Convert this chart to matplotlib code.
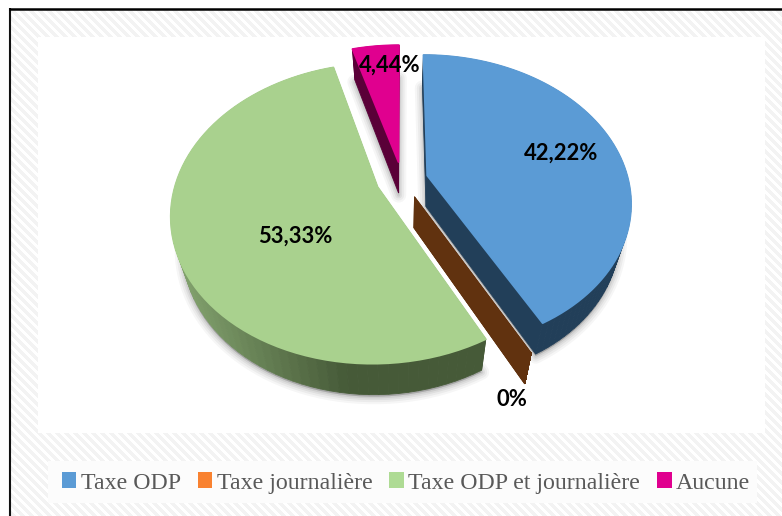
import numpy as np
import matplotlib
matplotlib.use("Agg")
import matplotlib.pyplot as plt
from matplotlib.patches import Patch, Polygon, Rectangle
from matplotlib.colors import to_rgb

# Survey shares by type of tax
categories = ["Taxe ODP", "Taxe journalière", "Taxe ODP et journalière", "Aucune"]
shares = [42.22, 0.0, 53.33, 4.44]
labels = ["42,22%", "0%", "53,33%", "4,44%"]

face_colors = ["#5B9BD5", "#ED7D31", "#A9D18E", "#E0008F"]
legend_colors = ["#5B9BD5", "#F98230", "#AEDB94", "#E0008F"]
wall_colors = ["#223F59", "#61320F", "#465A38", "#5A0038"]
label_xy = [(561, 153), (512, 399), (295, 236), (390, 65)]

# Camera used to lay the pie plane down in pixel space
CX, CY = 402.0, 180.0
SCALE_X, SCALE_Y = 201.0, 143.0
PERSPECTIVE = 0.175
DEPTH = 31.0
WALL_LEAN = 0.05
EXPLODE = 0.13


def project(u, v):
    w = 1.0 + PERSPECTIVE * v
    return CX + SCALE_X * u / w, CY - SCALE_Y * v / w


def wedge_outline(wedge, n=80):
    """Apex plus rim of a pie wedge, projected to pixels."""
    cu, cv = wedge.center
    t = np.radians(np.linspace(wedge.theta1, wedge.theta2, n))
    u = np.r_[cu, cu + wedge.r * np.cos(t)]
    v = np.r_[cv, cv + wedge.r * np.sin(t)]
    return np.column_stack(project(u, v))


def lower(points):
    """Same outline on the underside of the disc."""
    out = points.copy()
    out[:, 0] -= WALL_LEAN * (points[:, 0] - CX)
    out[:, 1] += DEPTH
    return out


fig = plt.figure(figsize=(7.82, 5.16), dpi=100, facecolor="white")

# The pie itself supplies the wedge angles and explosion offsets
helper = fig.add_axes([0, 0, 0.01, 0.01])
wedges, _ = helper.pie(shares, explode=[EXPLODE] * len(shares), startangle=90,
                       counterclock=False)
helper.set_visible(False)

ax = fig.add_axes([0, 0, 1, 1])
ax.set_xlim(0, 782)
ax.set_ylim(516, 0)
ax.axis("off")

# Diagonal pinstripe chart background
yy, xx = np.mgrid[10:516, 10:782]
stripes = np.where((xx - yy) % 9 < 4.5, 0.955, 1.0)
ax.imshow(stripes, extent=(10, 782, 516, 10), cmap="gray", vmin=0, vmax=1,
          aspect="auto", interpolation="bilinear", zorder=0)
ax.set_xlim(0, 782)
ax.set_ylim(516, 0)
ax.add_patch(Rectangle((38, 37), 727, 396, fc="white", ec="none", zorder=1))
ax.add_patch(Rectangle((48, 461), 709, 42, fc="#FCFCFC", ec="none", zorder=1))
ax.plot([9.5, 9.5], [8, 516], color="#111111", lw=1.5, zorder=2, solid_capstyle="butt")
ax.plot([8.5, 782], [9, 9], color="black", lw=1.8, zorder=2, solid_capstyle="butt")

outlines = [wedge_outline(w) for w in wedges]

# Soft drop shadows under the extruded wedges
for idx, pts in enumerate(outlines):
    if shares[idx] == 0:
        continue
    low = lower(pts) + np.array([0.0, 2.0])
    for lw, alpha in [(11, 0.035), (8, 0.045), (5, 0.055), (2.5, 0.07)]:
        ax.add_patch(Polygon(low, closed=True, fc="black", ec="black", lw=lw,
                             alpha=alpha, joinstyle="round", zorder=3))

# Extruded walls, then the top faces
for idx, pts in enumerate(outlines):
    low = lower(pts)
    closed_top = np.vstack([pts, pts[0]])
    closed_low = np.vstack([low, low[0]])
    base = np.array(to_rgb(wall_colors[idx]))
    for i in range(len(pts)):
        color = base
        if categories[idx] == "Taxe ODP et journalière":
            # The wall catches more light towards the left of the disc
            frac = np.clip((340 - closed_top[i, 0]) / 170.0, 0, 1)
            color = base + (np.array(to_rgb("#85A570")) - base) * frac
        quad = [closed_top[i], closed_top[i + 1], closed_low[i + 1], closed_low[i]]
        ax.add_patch(Polygon(quad, closed=True, fc=color, ec=color, lw=0.6, zorder=4))

for idx, pts in enumerate(outlines):
    if shares[idx] > 0:
        ax.add_patch(Polygon(pts, closed=True, fc=face_colors[idx], ec=face_colors[idx],
                             lw=1.3, joinstyle="round", zorder=5))

for text, (x, y) in zip(labels, label_xy):
    ax.text(x, y, text, family="Lato", weight="bold", fontsize=15.8, color="black",
            ha="center", va="center", zorder=6)

handles = [Patch(fc=c, ec="none", label=n) for c, n in zip(legend_colors, categories)]
ax.legend(handles=handles, ncol=4, loc="center", bbox_to_anchor=(406, 483),
          bbox_transform=ax.transData, frameon=False,
          prop={"family": "Liberation Serif", "size": 17.2},
          labelcolor="#595959", handlelength=0.6, handleheight=0.6,
          handletextpad=0.18, columnspacing=0.72, borderpad=0, borderaxespad=0)

fig.savefig("out.png", dpi=100)
